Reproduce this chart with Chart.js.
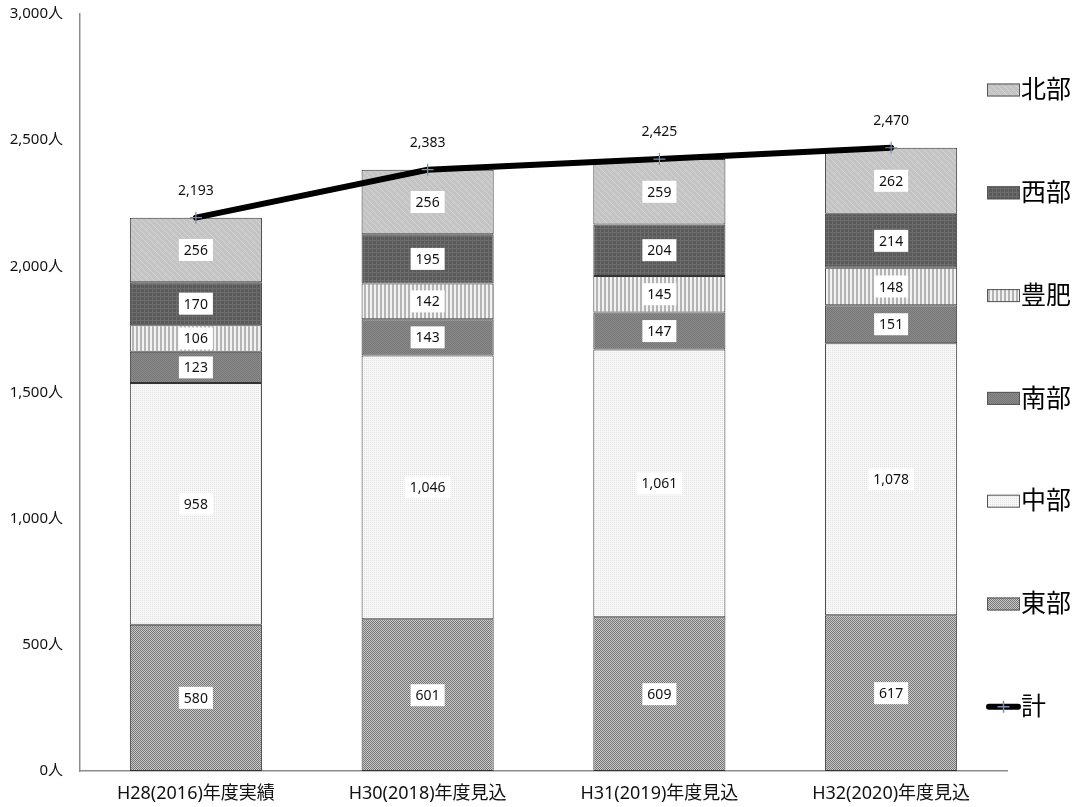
<!DOCTYPE html>
<html>
<head>
<meta charset="utf-8">
<script src="https://cdn.jsdelivr.net/npm/chart.js@4.4.1/dist/chart.umd.min.js"></script>
<style>
html,body{margin:0;padding:0;background:#fff;}
#wrap{width:1078px;height:807px;position:relative;}
</style>
</head>
<body>
<div id="wrap"><canvas id="c" width="1078" height="807"></canvas></div>
<script>
const categories = ['H28(2016)年度実績', 'H30(2018)年度見込', 'H31(2019)年度見込', 'H32(2020)年度見込'];
const seriesNames = ['東部', '中部', '南部', '豊肥', '西部', '北部'];
const east = [580, 601, 609, 617];
const central = [958, 1046, 1061, 1078];
const south = [123, 143, 147, 151];
const hohi = [106, 142, 145, 148];
const west = [170, 195, 204, 214];
const north = [256, 256, 259, 262];
const total = [2193, 2383, 2425, 2470];
const totalName = '計';
const yTicks = [0, 500, 1000, 1500, 2000, 2500, 3000];

const FONT = '"Noto Sans", "Noto Sans CJK JP", sans-serif';

function makePattern(w, h, draw) {
  const c = document.createElement('canvas');
  c.width = w; c.height = h;
  const g = c.getContext('2d');
  draw(g, w, h);
  return g.createPattern(c, 'repeat');
}
function px(g, x, y, col) { g.fillStyle = col; g.fillRect(x, y, 1, 1); }

const patEast = makePattern(2, 2, (g) => {
  g.fillStyle = '#c8c8c8'; g.fillRect(0, 0, 2, 2);
  px(g, 0, 0, '#767676'); px(g, 1, 1, '#767676');
});
const patCentral = makePattern(2, 2, (g) => {
  g.fillStyle = '#f7f7f7'; g.fillRect(0, 0, 2, 2);
  px(g, 0, 0, '#e2e2e2');
});
const patSouth = makePattern(2, 2, (g) => {
  g.fillStyle = '#8a8a8a'; g.fillRect(0, 0, 2, 2);
  px(g, 0, 0, '#777777'); px(g, 1, 1, '#777777');
});
const patHohi = makePattern(4, 4, (g) => {
  g.fillStyle = '#f2f2f2'; g.fillRect(0, 0, 4, 4);
  g.fillStyle = '#b4b4b4'; g.fillRect(0, 0, 2, 4);
});
const patWest = makePattern(4, 4, (g) => {
  g.fillStyle = '#5a5a5a'; g.fillRect(0, 0, 4, 4);
  g.fillStyle = '#6c6c6c'; g.fillRect(0, 0, 4, 1); g.fillRect(0, 0, 1, 4);
});
const patNorth = makePattern(6, 6, (g) => {
  g.fillStyle = '#c4c4c4'; g.fillRect(0, 0, 6, 6);
  for (let i = 0; i < 6; i++) px(g, i, i, '#d4d4d4');
});
const patterns = [patEast, patCentral, patSouth, patHohi, patWest, patNorth];
const values = [east, central, south, hohi, west, north];

const barSets = seriesNames.map((n, i) => ({
  type: 'bar',
  label: n,
  data: values[i],
  backgroundColor: patterns[i],
  borderColor: '#333',
  borderWidth: 1,
  borderSkipped: false,
  stack: 'bars',
  order: 2,
  categoryPercentage: 1,
  barPercentage: 0.57
}));

const lineSet = {
  type: 'line',
  label: totalName,
  data: total,
  borderColor: '#000',
  borderWidth: 6,
  borderCapStyle: 'round',
  tension: 0,
  fill: false,
  stack: 'line',
  order: 0,
  pointStyle: 'cross',
  pointRadius: 6,
  pointBorderColor: '#7b8fb5',
  pointBorderWidth: 1.2,
  pointBackgroundColor: '#7b8fb5'
};

const fmt = (v) => v.toLocaleString('en-US');

const labelPlugin = {
  id: 'labels',
  afterDatasetsDraw(chart) {
    const ctx = chart.ctx;
    ctx.save();
    ctx.font = '14px ' + FONT;
    ctx.textAlign = 'center';
    ctx.textBaseline = 'middle';
    chart.data.datasets.forEach((ds, di) => {
      const meta = chart.getDatasetMeta(di);
      if (ds.type === 'bar') {
        meta.data.forEach((el, i) => {
          const t = fmt(ds.data[i]);
          const cy = (el.y + el.base) / 2;
          const w = ctx.measureText(t).width + 10;
          ctx.fillStyle = '#fff';
          ctx.fillRect(el.x - w / 2, cy - 11, w, 22);
          ctx.fillStyle = '#111';
          ctx.fillText(t, el.x, cy + 1);
        });
      } else {
        meta.data.forEach((el, i) => {
          ctx.fillStyle = '#111';
          ctx.fillText(fmt(ds.data[i]), el.x, el.y - 27);
        });
      }
    });
    ctx.restore();
  }
};

const legendPlugin = {
  id: 'customLegend',
  afterDraw(chart) {
    const ctx = chart.ctx;
    ctx.save();
    const items = [];
    for (let i = seriesNames.length - 1; i >= 0; i--) items.push({ name: seriesNames[i], pat: patterns[i] });
    items.push({ name: totalName, line: true });
    const x0 = 987, boxW = 33, boxH = 13, startY = 90, step = 102.8;
    ctx.font = '25px ' + FONT;
    ctx.textBaseline = 'middle';
    ctx.textAlign = 'left';
    items.forEach((it, k) => {
      const cy = startY + k * step;
      if (it.line) {
        ctx.strokeStyle = '#000';
        ctx.lineWidth = 6;
        ctx.lineCap = 'round';
        ctx.beginPath(); ctx.moveTo(x0 + 2, cy); ctx.lineTo(x0 + boxW - 2, cy); ctx.stroke();
        ctx.strokeStyle = '#7b8fb5';
        ctx.lineWidth = 1.5;
        ctx.lineCap = 'butt';
        ctx.beginPath();
        ctx.moveTo(x0 + boxW / 2 - 6, cy); ctx.lineTo(x0 + boxW / 2 + 6, cy);
        ctx.moveTo(x0 + boxW / 2, cy - 6); ctx.lineTo(x0 + boxW / 2, cy + 6);
        ctx.stroke();
      } else {
        ctx.fillStyle = it.pat;
        ctx.fillRect(x0, cy - boxH / 2, boxW, boxH);
        ctx.strokeStyle = '#555';
        ctx.lineWidth = 1;
        ctx.strokeRect(x0 + 0.5, cy - boxH / 2 + 0.5, boxW - 1, boxH - 1);
      }
      ctx.fillStyle = '#000';
      ctx.fillText(it.name, x0 + boxW + 1, cy + 1);
    });
    ctx.restore();
  }
};

new Chart(document.getElementById('c'), {
  data: { labels: categories, datasets: [...barSets, lineSet] },
  options: {
    responsive: false,
    animation: false,
    devicePixelRatio: 1,
    layout: { padding: { top: 14, right: 71, left: 0, bottom: 0 } },
    plugins: { legend: { display: false }, tooltip: { enabled: false } },
    scales: {
      x: {
        stacked: true,
        grid: { display: false, drawTicks: false },
        border: { display: true, color: '#8c8c8c', width: 1.5 },
        ticks: { color: '#111', font: { family: FONT, size: 18 }, padding: 12, maxRotation: 0, autoSkip: false },
        afterFit(s) { s.height = 36; s.paddingLeft = 0; s.paddingRight = 0; }
      },
      y: {
        stacked: true,
        min: 0, max: 3000,
        grid: { display: false, drawTicks: false },
        border: { display: true, color: '#8c8c8c', width: 1.5 },
        afterBuildTicks(s) { s.ticks = yTicks.map(v => ({ value: v })); },
        ticks: {
          color: '#111',
          font: { family: FONT, size: 15 },
          padding: 17,
          callback: (v) => fmt(v) + '人'
        },
        afterFit(s) { s.width = 80; s.paddingTop = 0; s.paddingBottom = 0; }
      }
    }
  },
  plugins: [labelPlugin, legendPlugin]
});
</script>
</body>
</html>
